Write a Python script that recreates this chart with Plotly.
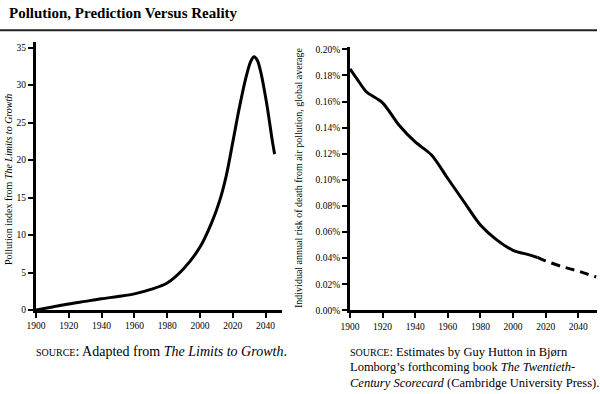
import plotly.graph_objects as go

# Left chart: Limits to Growth pollution index
left_years = [1900, 1910, 1920, 1930, 1940, 1950, 1960, 1970, 1980, 1990, 2000, 2007, 2012,
              2016, 2020, 2024, 2028, 2031, 2033, 2035, 2037, 2041, 2044, 2045.5]
left_index = [0.0, 0.4, 0.8, 1.15, 1.5, 1.8, 2.15, 2.75, 3.6, 5.5, 8.4, 11.6, 14.6,
              17.9, 22.4, 27.0, 31.0, 33.2, 33.8, 33.3, 31.8, 27.1, 22.7, 20.8]

# Right chart: risk of death from air pollution (percent)
right_years_solid = [1900, 1905, 1910, 1920, 1930, 1940, 1950, 1960, 1970, 1980, 1990, 2000, 2010, 2015]
right_risk_solid = [0.185, 0.176, 0.1675, 0.159, 0.142, 0.129, 0.119, 0.101, 0.083, 0.0654, 0.054, 0.046, 0.0425, 0.0405]
right_years_dash = [2015, 2020, 2030, 2040, 2051]
right_risk_dash = [0.0405, 0.0378, 0.0335, 0.030, 0.0255]

x_ticks = [1900, 1920, 1940, 1960, 1980, 2000, 2020, 2040]
left_y_ticks = [0, 5, 10, 15, 20, 25, 30, 35]
right_y_ticks = [0.00, 0.02, 0.04, 0.06, 0.08, 0.10, 0.12, 0.14, 0.16, 0.18, 0.20]
right_y_labels = [f"{v:.2f}%" for v in right_y_ticks]

W, H = 600, 394
FONT = "Liberation Serif"

def px_x(p):
    return p / W

def px_y(p):
    return 1 - p / H

fig = go.Figure()

fig.add_trace(go.Scatter(x=left_years, y=left_index, mode="lines",
                         line=dict(color="black", width=3, shape="spline", smoothing=0.9),
                         xaxis="x", yaxis="y", hoverinfo="skip", showlegend=False))
fig.add_trace(go.Scatter(x=right_years_solid, y=right_risk_solid, mode="lines",
                         line=dict(color="black", width=3, shape="spline", smoothing=0.8),
                         xaxis="x2", yaxis="y2", hoverinfo="skip", showlegend=False))
fig.add_trace(go.Scatter(x=right_years_dash, y=right_risk_dash, mode="lines",
                         line=dict(color="black", width=3, shape="spline", smoothing=0.8, dash="9px,6px"),
                         xaxis="x2", yaxis="y2", hoverinfo="skip", showlegend=False))

tickfont = dict(family=FONT, size=9.5, color="black")
axis_common = dict(showline=True, linecolor="black", linewidth=3, ticks="outside",
                   ticklen=5, tickwidth=1.5, tickcolor="black", showgrid=False,
                   zeroline=False, tickfont=tickfont, fixedrange=True, automargin=False)

fig.update_layout(
    template="none",
    width=W, height=H,
    margin=dict(l=0, r=0, t=0, b=0, pad=0, autoexpand=False),
    paper_bgcolor="white", plot_bgcolor="white",
    xaxis=dict(domain=[px_x(36), px_x(282)], range=[1900, 2050], tickvals=x_ticks,
               anchor="y", **axis_common),
    yaxis=dict(domain=[px_y(310), px_y(41.7)], range=[0, 35.8], tickvals=left_y_ticks,
               anchor="x", **axis_common),
    xaxis2=dict(domain=[px_x(350), px_x(597)], range=[1900, 2051.5], tickvals=x_ticks,
                anchor="y2", **axis_common),
    yaxis2=dict(domain=[px_y(310.3), px_y(46.7)], range=[0, 0.202], tickvals=right_y_ticks,
                ticktext=right_y_labels, anchor="x2", **axis_common),
    shapes=[dict(type="line", xref="paper", yref="paper", x0=0, x1=px_x(597),
                 y0=px_y(30.3), y1=px_y(30.3), line=dict(color="#222222", width=2))],
)

SC = "<span style='font-size:10px'>SOURCE</span>"
annotations = [
    dict(text="<b>Pollution, Prediction Versus Reality</b>", x=px_x(7), y=px_y(12.5),
         xanchor="left", yanchor="middle", font=dict(family=FONT, size=15, color="black")),
    dict(text="Pollution index from <i>The Limits to Growth</i>", x=px_x(8), y=px_y(180),
         textangle=-90, xanchor="center", yanchor="middle",
         font=dict(family=FONT, size=10, color="black")),
    dict(text="Individual annual risk of death from air pollution, global average",
         x=px_x(298), y=px_y(178), textangle=-90, xanchor="center", yanchor="middle",
         font=dict(family=FONT, size=10, color="black")),
    dict(text=SC + ": Adapted from <i>The Limits to Growth</i>.",
         x=px_x(34), y=px_y(351), xanchor="left", yanchor="middle",
         font=dict(family=FONT, size=14, color="black")),
    dict(text=SC + ": Estimates by Guy Hutton in Bjørn",
         x=px_x(348), y=px_y(351.5), xanchor="left", yanchor="middle",
         font=dict(family=FONT, size=12.5, color="black")),
    dict(text="Lomborg’s forthcoming book <i>The Twentieth-</i>",
         x=px_x(348), y=px_y(367.3), xanchor="left", yanchor="middle",
         font=dict(family=FONT, size=12.5, color="black")),
    dict(text="<i>Century Scorecard</i> (Cambridge University Press).",
         x=px_x(348), y=px_y(382.8), xanchor="left", yanchor="middle",
         font=dict(family=FONT, size=12.5, color="black")),
]
for a in annotations:
    a.update(xref="paper", yref="paper", showarrow=False)
fig.update_layout(annotations=annotations)

fig.write_html("out.html", config={"displayModeBar": False},
               post_script="document.body.style.margin='0';document.body.style.overflow='hidden';")
